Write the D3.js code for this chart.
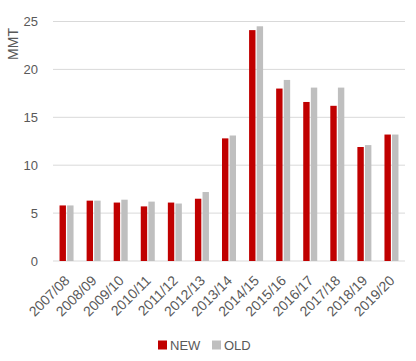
<!DOCTYPE html>
<html><head><meta charset="utf-8">
<script src="https://cdn.jsdelivr.net/npm/d3@7"></script>
<style>body{margin:0;background:#fff;} text{font-family:"Liberation Sans","Open Sans",sans-serif;fill:#595959;}</style>
</head><body><svg id="c" width="416" height="361"></svg>
<script>
const categories = ["2007/08","2008/09","2009/10","2010/11","2011/12","2012/13","2013/14","2014/15","2015/16","2016/17","2017/18","2018/19","2019/20"];
const newValues = [5.8,6.3,6.1,5.7,6.1,6.5,12.8,24.1,18.0,16.6,16.2,11.9,13.2];
const oldValues = [5.8,6.3,6.4,6.2,6.0,7.2,13.1,24.5,18.9,18.1,18.1,12.1,13.2];
const yTicks = [0,5,10,15,20,25];
const seriesNames = ["NEW","OLD"];
const colors = ["#C00000","#BFBFBF"];

(function(){
const svg = d3.select("#c");
const pL = 53, pR = 405, pT = 21.5, pB = 261;
const x = d3.scaleBand().domain(categories).range([pL, pR]);
const y = d3.scaleLinear().domain([0,25]).range([pB, pT]);
const bw = 6.4, gap = 1.2;

svg.append("g").selectAll("line").data(yTicks).join("line")
  .attr("x1", pL).attr("x2", pR)
  .attr("y1", d => y(d)).attr("y2", d => y(d))
  .attr("stroke", "#D9D9D9").attr("stroke-width", 1);

svg.append("g").selectAll("text").data(yTicks).join("text")
  .attr("x", 38).attr("y", d => y(d)).attr("dy", "0.35em")
  .attr("text-anchor", "end").attr("font-size", 13).text(d => d);

svg.append("text").attr("transform", "translate(18,44) rotate(-90)")
  .attr("text-anchor", "middle").attr("font-size", 14).text("MMT");

const series = [newValues, oldValues];
series.forEach((vals, si) => {
  svg.append("g").selectAll("rect").data(vals).join("rect")
    .attr("x", (d,i) => x(categories[i]) + x.bandwidth()/2 + (si === 0 ? -bw - gap/2 : gap/2))
    .attr("y", d => y(d))
    .attr("width", bw)
    .attr("height", d => y(0) - y(d))
    .attr("fill", colors[si]);
});

svg.append("g").selectAll("text").data(categories).join("text")
  .attr("transform", d => `translate(${x(d) + x.bandwidth()/2 + 0.5},${278}) rotate(-45)`)
  .attr("text-anchor", "end").attr("dy", "0.35em").attr("font-size", 14).text(d => d);

const lg = svg.append("g");
const items = [{n: seriesNames[0], c: colors[0], x: 158}, {n: seriesNames[1], c: colors[1], x: 212}];
items.forEach(it => {
  lg.append("rect").attr("x", it.x).attr("y", 340.5).attr("width", 9).attr("height", 9).attr("fill", it.c);
  lg.append("text").attr("x", it.x + 12).attr("y", 345).attr("dy", "0.35em").attr("font-size", 13).text(it.n);
});
})();
</script></body></html>
